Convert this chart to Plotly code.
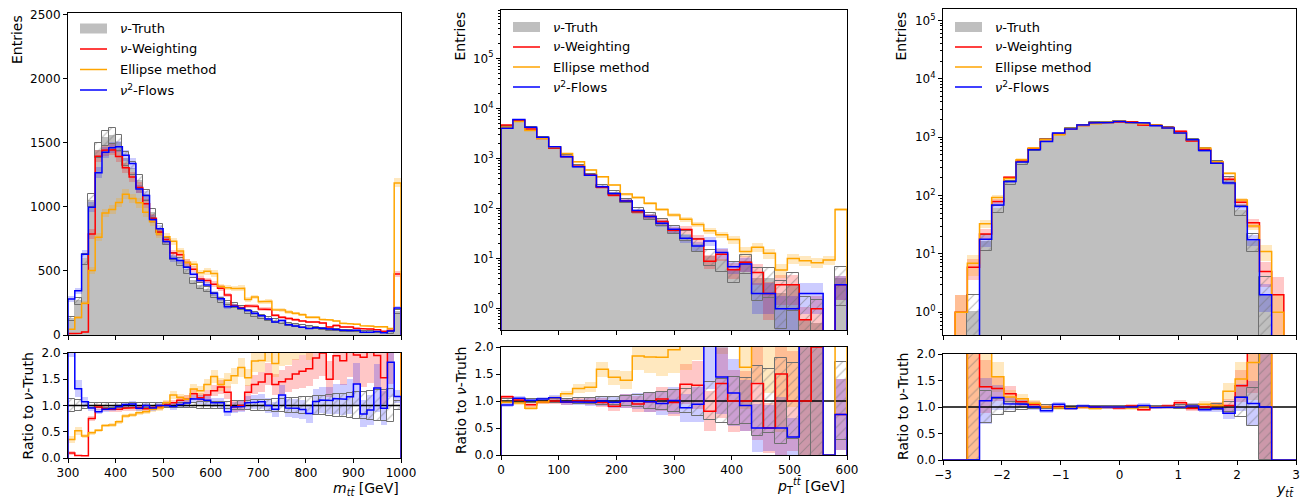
import numpy as np
import plotly.graph_objects as go

# ====================== DATA ======================
# ---- panel 1: m_tt [GeV] ----
mtt_edges = np.linspace(300, 1000, 50)
mtt_truth = [125, 262, 590, 1050, 1440,
             1535, 1555, 1500, 1375, 1300,
             1200, 1090, 950, 830, 730,
             610, 570, 505, 420, 380,
             355, 310, 270, 250, 232,
             212, 182, 160, 140, 125,
             110, 95, 85, 75, 66,
             60, 53, 47, 42, 38,
             34, 30, 27, 25, 23,
             21, 19, 17, 180]
mtt_nuw = [12, 13, 24, 788, 1397,
           1443, 1446, 1395, 1306, 1235,
           1152, 1025, 912, 805, 745,
           641, 627, 566, 514, 437,
           426, 397, 365, 313, 227,
           212, 228, 224, 203, 200,
           154, 138, 128, 120, 109,
           102, 101, 94, 63, 74,
           63, 63, 53, 48, 47,
           41, 29, 37, 477]
mtt_ellipse = [44, 136, 248, 504, 763,
               952, 980, 1035, 1100, 1066,
               1032, 959, 884, 789, 767,
               732, 656, 566, 553, 486,
               497, 481, 378, 370, 364,
               365, 278, 296, 260, 263,
               198, 195, 179, 169, 158,
               138, 138, 122, 118, 110,
               92, 87, 84, 73, 69,
               65, 65, 51, 1188]
mtt_flows = [281, 346, 631, 998, 1267,
             1428, 1462, 1470, 1403, 1339,
             1140, 1090, 903, 830, 730,
             598, 581, 530, 474, 426,
             391, 326, 284, 220, 225,
             208, 191, 170, 150, 125,
             102, 114, 81, 71, 61,
             51, 57, 52, 46, 43,
             38, 35, 38, 21, 21,
             28, 18, 31, 211]
# relative uncertainties
mtt_truth_err = [0.12, 0.10, 0.07, 0.05, 0.04,
                 0.04, 0.04, 0.04, 0.04, 0.04,
                 0.04, 0.04, 0.04, 0.04, 0.04,
                 0.045, 0.05, 0.05, 0.055, 0.06,
                 0.06, 0.065, 0.07, 0.075, 0.08,
                 0.085, 0.09, 0.10, 0.10, 0.11,
                 0.12, 0.13, 0.14, 0.15, 0.16,
                 0.17, 0.18, 0.19, 0.20, 0.21,
                 0.22, 0.24, 0.25, 0.26, 0.27,
                 0.29, 0.30, 0.32, 0.08]
mtt_nuw_err = [0.30, 0.30, 0.25, 0.05, 0.035,
               0.03, 0.03, 0.03, 0.03, 0.03,
               0.035, 0.035, 0.035, 0.04, 0.04,
               0.04, 0.045, 0.045, 0.05, 0.05,
               0.05, 0.055, 0.06, 0.06, 0.065,
               0.07, 0.07, 0.075, 0.08, 0.08,
               0.085, 0.09, 0.09, 0.095, 0.10,
               0.10, 0.10, 0.11, 0.11, 0.11,
               0.12, 0.12, 0.12, 0.13, 0.13,
               0.13, 0.14, 0.14, 0.05]
mtt_ellipse_err = [0.15, 0.10, 0.07, 0.05, 0.04,
                   0.035, 0.035, 0.035, 0.035, 0.035,
                   0.035, 0.035, 0.035, 0.04, 0.04,
                   0.04, 0.04, 0.045, 0.045, 0.045,
                   0.05, 0.05, 0.05, 0.055, 0.055,
                   0.06, 0.06, 0.06, 0.065, 0.065,
                   0.07, 0.07, 0.07, 0.075, 0.075,
                   0.08, 0.08, 0.08, 0.085, 0.085,
                   0.09, 0.09, 0.09, 0.095, 0.095,
                   0.10, 0.10, 0.10, 0.03]
mtt_flows_err = [0.08, 0.07, 0.05, 0.04, 0.035,
                 0.03, 0.03, 0.03, 0.03, 0.03,
                 0.03, 0.03, 0.035, 0.035, 0.04,
                 0.04, 0.04, 0.045, 0.045, 0.05,
                 0.05, 0.055, 0.06, 0.065, 0.07,
                 0.07, 0.075, 0.08, 0.085, 0.09,
                 0.095, 0.10, 0.10, 0.11, 0.11,
                 0.12, 0.12, 0.13, 0.13, 0.14,
                 0.14, 0.15, 0.15, 0.16, 0.16,
                 0.17, 0.17, 0.18, 0.06]

# ---- panel 2: pT_tt [GeV] ----
pt_edges = np.linspace(0, 600, 30)
pt_truth = [4300, 5700, 4150, 2550, 1620,
            1110, 700, 470, 273, 205,
            141, 91, 70, 53, 38,
            29, 19, 11, 9.2, 6.0,
            8.5, 4.0, 4.0, 2.0, 3.0,
            0.6, 0.5, 0, 4.0]
pt_nuw = [4644, 5814, 3860, 2499, 1620,
          1088, 700, 470, 265, 185,
          141, 86, 69, 55, 37,
          38, 24.5, 8.9, 12.2, 6.0,
          8.5, 5.3, 2.0, 3.0, 3.0,
          0.6, 1.0, 0, 3.0]
pt_ellipse = [4200, 5500, 3600, 2500, 1700,
              1260, 863, 590, 433, 295,
              195, 167, 127, 96, 74,
              61, 48, 36, 30, 24,
              13.8, 16.8, 12.8, 5.9, 10.1,
              9.1, 8.3, 9.4, 96]
pt_flows = [3990, 6000, 4200, 2650, 1720,
            1087, 686, 460, 273, 200,
            141, 91, 69, 50.6, 38.4,
            25.4, 17.9, 22.5, 13.3, 6.9,
            7.8, 2.0, 2.0, 1.0, 1.0,
            2.0, 2.0, 0, 3.0]
pt_truth_err = [0.03, 0.03, 0.03, 0.03, 0.04,
                0.04, 0.05, 0.06, 0.07, 0.08,
                0.10, 0.12, 0.14, 0.17, 0.20,
                0.23, 0.28, 0.35, 0.40, 0.45,
                0.42, 0.65, 0.60, 0.80, 0.70,
                1.8, 2.0, 0, 0.72]
pt_nuw_err = [0.02, 0.02, 0.02, 0.03, 0.03,
              0.04, 0.04, 0.05, 0.06, 0.07,
              0.08, 0.10, 0.12, 0.14, 0.15,
              0.17, 0.20, 0.30, 0.28, 0.35,
              0.35, 0.45, 0.70, 0.60, 0.60,
              0.80, 0.80, 0, 0.50]
pt_ellipse_err = [0.02, 0.02, 0.02, 0.03, 0.03,
                  0.03, 0.04, 0.04, 0.05, 0.06,
                  0.07, 0.07, 0.08, 0.09, 0.10,
                  0.11, 0.12, 0.14, 0.15, 0.17,
                  0.22, 0.20, 0.22, 0.30, 0.22,
                  0.22, 0.23, 0.22, 0.08]
pt_flows_err = [0.02, 0.02, 0.02, 0.03, 0.03,
                0.04, 0.04, 0.05, 0.06, 0.07,
                0.08, 0.10, 0.12, 0.14, 0.15,
                0.18, 0.20, 0.20, 0.25, 0.30,
                0.30, 0.60, 0.60, 0.80, 0.80,
                0.60, 0.60, 0, 0.50]

# ---- panel 3: y_tt ----
y_edges = np.linspace(-3, 3, 30)
y_truth = [0, 0, 1.0, 15.9, 58.5,
           164, 355, 606, 906, 1116,
           1414, 1588, 1740, 1784, 1869,
           1784, 1689, 1581, 1427, 1172,
           883, 621, 369, 185, 55,
           16.3, 2.0, 0, 0]
y_nuw = [0, 1.0, 5.9, 22, 79,
         205, 390, 636, 906, 1116,
         1386, 1588, 1740, 1784, 1832,
         1820, 1605, 1581, 1456, 1266,
         857, 621, 380, 190, 77,
         34, 5.0, 2.0, 0]
y_ellipse = [0, 1.0, 6.9, 32.7, 92,
             195, 410, 648, 906, 1094,
             1400, 1588, 1688, 1784, 1869,
             1748, 1689, 1597, 1427, 1172,
             901, 652, 380, 240, 84,
             30, 11, 1.0, 0]
y_flows = [0, 0, 0, 17.8, 69,
           174, 373, 606, 843, 1172,
           1372, 1620, 1740, 1784, 1850,
           1784, 1740, 1565, 1427, 1172,
           901, 590, 358, 163, 65,
           17.4, 2.0, 0, 0]
y_truth_err = [0, 0, 1.0, 0.3, 0.15,
               0.09, 0.05, 0.04, 0.03, 0.03,
               0.025, 0.025, 0.025, 0.025, 0.025,
               0.025, 0.025, 0.025, 0.025, 0.03,
               0.035, 0.04, 0.05, 0.10, 0.18,
               0.35, 1.0, 0, 0]
y_nuw_err = [0, 1.0, 0.4, 0.2, 0.1,
             0.07, 0.05, 0.04, 0.03, 0.03,
             0.025, 0.025, 0.025, 0.025, 0.025,
             0.025, 0.025, 0.025, 0.025, 0.03,
             0.035, 0.04, 0.05, 0.08, 0.12,
             0.18, 0.45, 1.0, 0]
y_ellipse_err = [0, 1.0, 0.4, 0.15, 0.1,
                 0.06, 0.05, 0.04, 0.03, 0.03,
                 0.025, 0.025, 0.025, 0.025, 0.025,
                 0.025, 0.025, 0.025, 0.025, 0.03,
                 0.035, 0.04, 0.05, 0.07, 0.1,
                 0.15, 0.3, 1.0, 0]
y_flows_err = [0, 0, 0, 0.25, 0.12,
               0.07, 0.05, 0.04, 0.03, 0.03,
               0.025, 0.025, 0.025, 0.025, 0.025,
               0.025, 0.025, 0.025, 0.025, 0.03,
               0.035, 0.04, 0.05, 0.08, 0.12,
               0.2, 0.5, 0, 0]

legend_labels = ["<i>ν</i>-Truth", "<i>ν</i>-Weighting", "Ellipse method", "<i>ν</i><sup>2</sup>-Flows"]
xlabels = ["<i>m</i><sub><i>tt̄</i></sub> [GeV]",
           "<i>p</i><sub>T</sub><sup><i>tt̄</i></sup> [GeV]",
           "<i>y</i><sub><i>tt̄</i></sub>"]

# ====================== STYLE ======================
W, H = 1312, 500
FONT = "DejaVu Sans"
RED, ORANGE, BLUE = "#ff0000", "#ffa500", "#0000ff"
GRAY, HATCH = "#bfbfbf", "#707070"
BANDC = {RED: "rgba(255,0,0,0.22)", ORANGE: "rgba(255,165,0,0.25)", BLUE: "rgba(0,0,255,0.20)"}
HATCH_MARKER = dict(color="rgba(0,0,0,0)", line=dict(color=HATCH, width=1),
                    pattern=dict(shape="/", fgcolor=HATCH, size=7, solidity=0.15, fillmode="overlay"))


def px(x):
    return x / W


def py(y):
    return 1 - y / H


fig = go.Figure()


def steps(e, v, floor):
    v = np.nan_to_num(np.asarray(v, float), nan=floor, posinf=1e9)
    v = np.where(v > 0, v, floor)
    xs = np.repeat(e, 2)
    ys = np.concatenate([[floor], np.repeat(v, 2), [floor]])
    return xs, ys


def bars(x, base, top, w, xa, ya, marker):
    if len(x) == 0:
        return
    fig.add_trace(go.Bar(x=x, y=top - base, base=base, width=w, marker=marker,
                         xaxis=xa, yaxis=ya, hoverinfo="skip", showlegend=False))


def panel(idx, edges, truth, truth_err, series, log):
    xm = "x" if idx == 1 else f"x{2*idx-1}"
    ym = "y" if idx == 1 else f"y{2*idx-1}"
    xr, yr = f"x{2*idx}", f"y{2*idx}"
    e = np.asarray(edges, float)
    t = np.asarray(truth, float)
    te = np.asarray(truth_err, float)
    w = e[1] - e[0]
    c = 0.5 * (e[:-1] + e[1:])
    floor = 1e-3 if log else 0.0
    # ---- main: truth filled histogram
    ok = t > 0
    bars(c[ok], np.full(ok.sum(), floor), t[ok], w, xm, ym,
         dict(color=GRAY, line=dict(color=GRAY, width=1)))
    # method bands
    for vals, err, col in series:
        m = np.asarray(vals, float)
        me = np.asarray(err, float)
        ok = (m > 0) & (me > 0)
        lo = np.maximum(m * (1 - me), floor)
        hi = m * (1 + me)
        bars(c[ok], lo[ok], hi[ok], w, xm, ym, dict(color=BANDC[col], line=dict(width=0)))
    # truth hatched band
    ok = (t > 0) & (te > 0)
    lo = np.maximum(t * (1 - te), floor)
    hi = t * (1 + te)
    bars(c[ok], lo[ok], hi[ok], w, xm, ym, HATCH_MARKER)
    # method step lines
    for vals, err, col in series:
        xs, ys = steps(e, vals, floor)
        fig.add_trace(go.Scatter(x=xs, y=ys, mode="lines", line=dict(color=col, width=1.5),
                                 xaxis=xm, yaxis=ym, hoverinfo="skip", showlegend=False))
    # ---- ratio (method band includes the truth uncertainty)
    tsafe = np.where(t > 0, t, np.nan)
    for vals, err, col in series:
        m = np.asarray(vals, float)
        me = np.asarray(err, float)
        r = m / tsafe
        h = r * np.sqrt(me ** 2 + te ** 2)
        ok = (t > 0) & (m > 0)
        bars(c[ok], (r - h)[ok], (r + h)[ok], w, xr, yr, dict(color=BANDC[col], line=dict(width=0)))
    ok = (t > 0) & (te > 0)
    bars(c[ok], (1 - te)[ok], (1 + te)[ok], w, xr, yr, HATCH_MARKER)
    fig.add_trace(go.Scatter(x=[e[0], e[-1]], y=[1, 1], mode="lines",
                             line=dict(color="black", width=1.5),
                             xaxis=xr, yaxis=yr, hoverinfo="skip", showlegend=False))
    for vals, err, col in series:
        m = np.asarray(vals, float)
        xs, ys = steps(e, m / tsafe, 0.0)
        fig.add_trace(go.Scatter(x=xs, y=ys, mode="lines", line=dict(color=col, width=1.5),
                                 xaxis=xr, yaxis=yr, hoverinfo="skip", showlegend=False))


panel(1, mtt_edges, mtt_truth, mtt_truth_err,
      [(mtt_nuw, mtt_nuw_err, RED), (mtt_ellipse, mtt_ellipse_err, ORANGE), (mtt_flows, mtt_flows_err, BLUE)],
      log=False)
panel(2, pt_edges, pt_truth, pt_truth_err,
      [(pt_nuw, pt_nuw_err, RED), (pt_ellipse, pt_ellipse_err, ORANGE), (pt_flows, pt_flows_err, BLUE)],
      log=True)
panel(3, y_edges, y_truth, y_truth_err,
      [(y_nuw, y_nuw_err, RED), (y_ellipse, y_ellipse_err, ORANGE), (y_flows, y_flows_err, BLUE)],
      log=True)

# ====================== AXES ======================
AX = dict(showline=True, linecolor="black", linewidth=1, mirror=True, showgrid=False, zeroline=False,
          ticks="outside", ticklen=4, tickwidth=1, tickcolor="black", automargin=False,
          tickfont=dict(family=FONT, size=12, color="black"))

panels = {
    1: dict(x=[px(68), px(401)], main=[py(335), py(13)], ratio=[py(458), py(353)],
            xr=[300, 1000], xt=list(range(300, 1001, 100)), yr=[0, 2515], log=False),
    2: dict(x=[px(501), px(847)], main=[py(330), py(10)], ratio=[py(455), py(347)],
            xr=[0, 600], xt=list(range(0, 601, 100)), yr=[-0.426, 5.965], log=True),
    3: dict(x=[px(943), px(1296)], main=[py(335), py(9)], ratio=[py(460), py(354)],
            xr=[-3, 3], xt=list(range(-3, 4)), yr=[-0.389, 5.194], log=True),
}
decades = list(range(0, 6))
minor_vals = [k * 10.0 ** d for d in range(-1, 6) for k in range(2, 10)]
layout_axes = {}
for i, p in panels.items():
    mi, ri = 2 * i - 1, 2 * i
    xm_name = "xaxis" if mi == 1 else f"xaxis{mi}"
    ym_name = "yaxis" if mi == 1 else f"yaxis{mi}"
    ym_ref = "y" if mi == 1 else f"y{mi}"
    xm_ref = "x" if mi == 1 else f"x{mi}"
    layout_axes[xm_name] = dict(AX, domain=p["x"], range=p["xr"], anchor=ym_ref,
                                tickvals=p["xt"], showticklabels=False)
    if p["log"]:
        layout_axes[ym_name] = dict(AX, domain=p["main"], type="log", range=p["yr"], anchor=xm_ref,
                                    tickvals=[10 ** d for d in decades],
                                    ticktext=[f"10<sup>{d}</sup>" for d in decades],
                                    minor=dict(tickvals=minor_vals, ticks="outside", ticklen=2,
                                               tickcolor="black", showgrid=False))
    else:
        layout_axes[ym_name] = dict(AX, domain=p["main"], range=p["yr"], anchor=xm_ref,
                                    tickvals=list(range(0, 2501, 500)))
    layout_axes[f"xaxis{ri}"] = dict(AX, domain=p["x"], range=p["xr"], anchor=f"y{ri}",
                                     tickvals=p["xt"])
    layout_axes[f"yaxis{ri}"] = dict(AX, domain=p["ratio"], range=[0, 2], anchor=f"x{ri}",
                                     tickvals=[0, 0.5, 1, 1.5, 2],
                                     ticktext=["0.0", "0.5", "1.0", "1.5", "2.0"])

# ====================== LEGENDS & LABELS ======================
shapes, annotations = [], []
legend_pos = [  # patch x0, patch x1, text x, row y's
    (80, 107, 118, [28.5, 49, 69.5, 90]),
    (513, 540, 551, [27, 47, 67, 87]),
    (955, 982, 993, [27, 47, 67, 87]),
]
for (a, b, tx, rows) in legend_pos:
    shapes.append(dict(type="rect", xref="paper", yref="paper", x0=px(a), x1=px(b),
                       y0=py(rows[0] + 5), y1=py(rows[0] - 5), fillcolor=GRAY, line=dict(width=0)))
    for col, r in zip([RED, ORANGE, BLUE], rows[1:]):
        shapes.append(dict(type="line", xref="paper", yref="paper", x0=px(a), x1=px(b),
                           y0=py(r), y1=py(r), line=dict(color=col, width=1.5)))
    for lab, r in zip(legend_labels, rows):
        annotations.append(dict(text=lab, xref="paper", yref="paper", x=px(tx), y=py(r),
                                xanchor="left", yanchor="middle", showarrow=False,
                                font=dict(family=FONT, size=13, color="black")))

entries_pos = [(16.5, 13), (459, 10), (900, 10)]
ratio_pos = [(27.5, 406), (461, 401), (903, 407)]
xlab_pos = [(401, 489), (847, 485), (1296, 490)]
for (ex, ey), (rx, ry), (lx, ly), xl in zip(entries_pos, ratio_pos, xlab_pos, xlabels):
    annotations.append(dict(text="Entries", xref="paper", yref="paper", x=px(ex), y=py(ey),
                            xanchor="center", yanchor="top", textangle=-90, showarrow=False,
                            font=dict(family=FONT, size=14, color="black")))
    annotations.append(dict(text="Ratio to <i>ν</i>-Truth", xref="paper", yref="paper",
                            x=px(rx), y=py(ry), xanchor="center", yanchor="middle",
                            textangle=-90, showarrow=False,
                            font=dict(family=FONT, size=14, color="black")))
    annotations.append(dict(text=xl, xref="paper", yref="paper", x=px(lx), y=py(ly),
                            xanchor="right", yanchor="middle", showarrow=False,
                            font=dict(family=FONT, size=14, color="black")))

fig.update_layout(
    width=W, height=H, margin=dict(l=0, r=0, t=0, b=0),
    paper_bgcolor="white", plot_bgcolor="white",
    barmode="overlay", bargap=0, showlegend=False,
    font=dict(family=FONT, size=12, color="black"),
    shapes=shapes, annotations=annotations,
    **layout_axes,
)

fig.write_html("out.html", config={"displayModeBar": False},
               post_script="document.body.style.margin='0px';document.body.style.padding='0px';")
